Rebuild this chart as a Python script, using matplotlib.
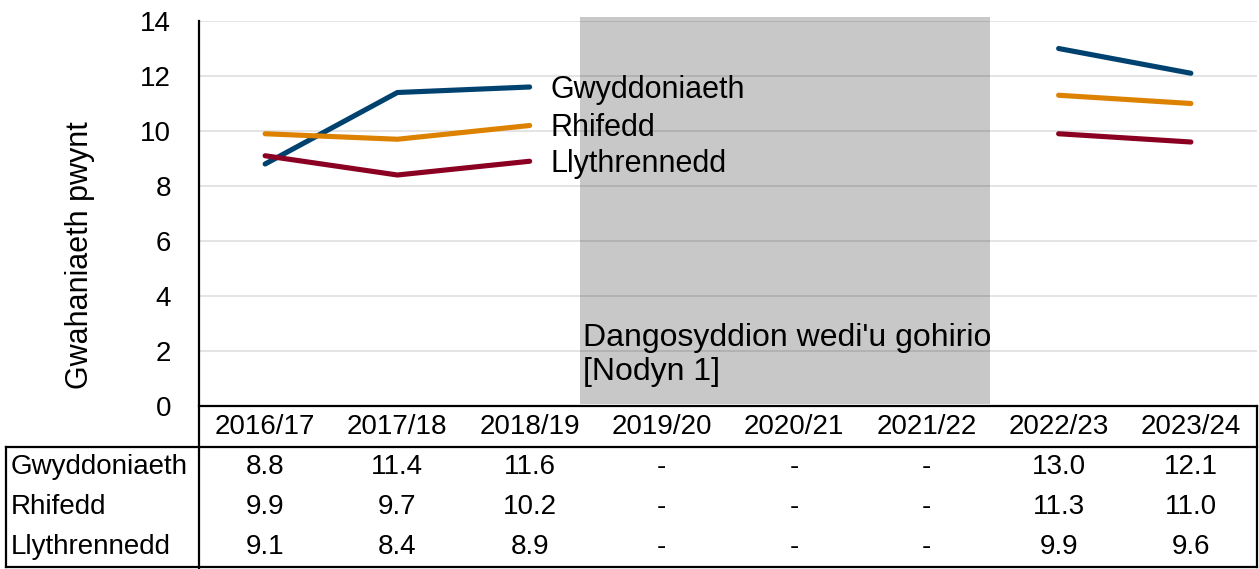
import numpy as np
import matplotlib.pyplot as plt
from matplotlib.lines import Line2D
from matplotlib.transforms import blended_transform_factory

plt.rc('font', family=['Liberation Sans', 'DejaVu Sans'])

years = ['2016/17', '2017/18', '2018/19', '2019/20', '2020/21', '2021/22', '2022/23', '2023/24']
gwyddoniaeth = [8.8, 11.4, 11.6, np.nan, np.nan, np.nan, 13.0, 12.1]
rhifedd = [9.9, 9.7, 10.2, np.nan, np.nan, np.nan, 11.3, 11.0]
llythrennedd = [9.1, 8.4, 8.9, np.nan, np.nan, np.nan, 9.9, 9.6]

series = [
    ('Gwyddoniaeth', gwyddoniaeth, '#00426F'),
    ('Rhifedd', rhifedd, '#DD8200'),
    ('Llythrennedd', llythrennedd, '#8B0022'),
]

W, H = 1259, 569


def fx(x):
    return x / W


def fy(y):
    return 1 - y / H


fig = plt.figure(figsize=(W / 100, H / 100), dpi=100)
ax = fig.add_axes([fx(199), fy(406), (1257 - 199) / W, (406 - 21) / H])

x = np.arange(len(years))
ax.set_xlim(-0.5, len(years) - 0.5)
ax.set_ylim(0, 14)
ax.set_yticks(np.arange(0, 15, 2))
ax.tick_params(axis='y', length=0, pad=20, labelsize=20)
ax.set_xticks([])
for s in ['top', 'right', 'bottom', 'left']:
    ax.spines[s].set_visible(False)
ax.yaxis.grid(True, color='#E2E2E2', linewidth=1.3, zorder=1)
ax.set_axisbelow(True)

# suspended years shading
ax.axvspan(2.38, 5.48, ymin=0.005, ymax=1.011, facecolor='black', alpha=0.215,
           linewidth=0, zorder=1.5, clip_on=False)
ax.text(2.40, 1.85, "Dangosyddion wedi'u gohirio\n[Nodyn 1]", fontsize=23,
        ha='left', va='center', zorder=3)

for name, vals, col in series:
    ax.plot(x, vals, color=col, linewidth=3.7, solid_capstyle='round', zorder=4)
    ax.annotate(name, (2, vals[2]), xytext=(15, -2), textcoords='offset points',
                fontsize=22, va='center', ha='left', zorder=5)

fig.text(fx(80), fy(255), 'Gwahaniaeth pwynt', rotation=90, fontsize=22,
         ha='center', va='center')

# data table underneath
lw = 1.6
lines = [
    ((199, 199), (21, 569)),
    ((199, 1257), (406, 406)),
    ((6, 1257), (447, 447)),
    ((6, 1257), (567, 567)),
    ((6, 6), (447, 567)),
    ((1257, 1257), (406, 567)),
]
for xs, ys in lines:
    fig.add_artist(Line2D([fx(v) for v in xs], [fy(v) for v in ys],
                          color='black', linewidth=lw, transform=fig.transFigure))

tr = blended_transform_factory(ax.transData, fig.transFigure)
for i, yr in enumerate(years):
    ax.text(i, fy(427), yr, transform=tr, ha='center', va='center', fontsize=20)

row_y = [467, 507, 547]
for (name, vals, col), ry in zip(series, row_y):
    fig.text(fx(11), fy(ry), name, ha='left', va='center', fontsize=20)
    for i, v in enumerate(vals):
        txt = '-' if np.isnan(v) else '{:.1f}'.format(v)
        ax.text(i, fy(ry), txt, transform=tr, ha='center', va='center', fontsize=20)

fig.savefig('out.png', dpi=100)
